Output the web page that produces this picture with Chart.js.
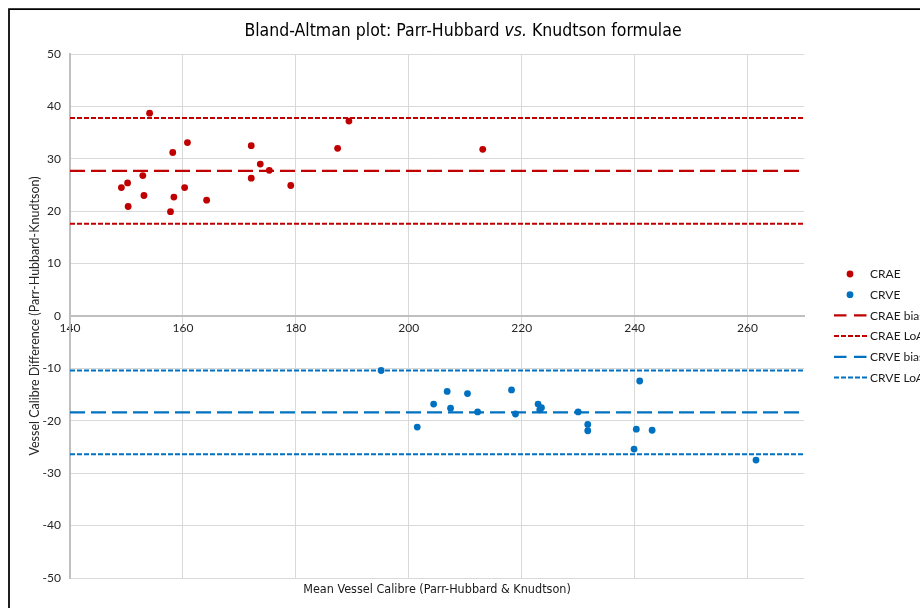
<!DOCTYPE html>
<html>
<head>
<meta charset="utf-8">
<script src="https://cdn.jsdelivr.net/npm/chart.js@4.4.1/dist/chart.umd.min.js"></script>
<style>
  html, body { margin: 0; padding: 0; background: #fff; }
</style>
</head>
<body>
<canvas id="ba-chart" width="920" height="608"></canvas>
<script>
// CRAE: mean of the two formulae vs. their difference
const craeMean = [149.1, 150.2, 150.3, 152.9, 153.1, 154.1, 157.8, 158.2, 158.4, 160.3,
                  160.8, 164.2, 172.1, 172.1, 173.7, 175.3, 179.1, 187.4, 189.4, 213.1];
const craeDiff = [24.5, 25.4, 20.9, 26.8, 23.0, 38.7, 19.9, 31.2, 22.7, 24.5,
                  33.1, 22.1, 32.5, 26.3, 29.0, 27.8, 24.9, 32.0, 37.2, 31.8];

// CRVE
const crveMean = [195.1, 201.5, 204.4, 206.8, 207.4, 210.4, 212.2, 218.2, 218.9, 222.9,
                  223.2, 223.5, 230.0, 231.7, 231.7, 240.9, 240.3, 243.1, 239.9, 261.5];
const crveDiff = [-10.4, -21.2, -16.8, -14.4, -17.6, -14.8, -18.3, -14.1, -18.7, -16.8,
                  -17.9, -17.5, -18.3, -20.7, -21.9, -12.4, -21.6, -21.8, -25.4, -27.5];

// bias and limits of agreement
const craeBias = 27.7;
const craeLoA = [17.6, 37.8];
const crveBias = -18.4;
const crveLoA = [-26.4, -10.4];

const xTickValues = [140, 160, 180, 200, 220, 240, 260];
const yTickValues = [-50, -40, -30, -20, -10, 0, 10, 20, 30, 40, 50];
const xRange = [140, 270];

const RED = '#C00000';
const BLUE = '#0070C0';
const SANS = 'Lato, "Noto Sans", sans-serif';
const TITLE_FONT = '"DejaVu Sans Condensed", "DejaVu Sans", sans-serif';

function toPoints(xs, ys) {
  return xs.map((x, i) => ({ x: x, y: ys[i] }));
}

function hLine(y) {
  return [{ x: xRange[0], y: y }, { x: xRange[1], y: y }];
}

function hLines(ys) {
  let pts = [];
  ys.forEach((y, i) => {
    if (i > 0) pts.push({ x: xRange[1], y: null });
    pts = pts.concat(hLine(y));
  });
  return pts;
}

function statLine(label, data, color, dash, width) {
  return {
    type: 'line',
    label: label,
    data: data,
    borderColor: color,
    backgroundColor: color,
    borderWidth: width,
    borderDash: dash,
    pointRadius: 0,
    spanGaps: false,
    fill: false,
    order: 2
  };
}

// frame, title, x axis title and legend drawn by hand
const decorations = {
  id: 'decorations',
  beforeDraw(chart) {
    const ctx = chart.ctx;
    ctx.save();
    ctx.fillStyle = '#ffffff';
    ctx.fillRect(0, 0, chart.width, chart.height);
    ctx.restore();
  },
  afterDraw(chart) {
    const ctx = chart.ctx;
    const area = chart.chartArea;
    ctx.save();

    // outer frame (only top and left edges are visible)
    ctx.strokeStyle = '#000';
    ctx.lineWidth = 1.75;
    ctx.beginPath();
    ctx.moveTo(9, chart.height + 5);
    ctx.lineTo(9, 9);
    ctx.lineTo(chart.width + 5, 9);
    ctx.stroke();

    // title, with "vs." in italics
    const parts = [
      { text: 'Bland-Altman plot: Parr-Hubbard ', italic: false },
      { text: 'vs.', italic: true },
      { text: ' Knudtson formulae', italic: false }
    ];
    const size = 17.5;
    let total = 0;
    parts.forEach(p => {
      ctx.font = (p.italic ? 'italic ' : '') + size + 'px ' + TITLE_FONT;
      p.w = ctx.measureText(p.text).width;
      total += p.w;
    });
    let tx = 463 - total / 2;
    ctx.fillStyle = '#000';
    ctx.textBaseline = 'middle';
    ctx.textAlign = 'left';
    parts.forEach(p => {
      ctx.font = (p.italic ? 'italic ' : '') + size + 'px ' + TITLE_FONT;
      ctx.fillText(p.text, tx, 31);
      tx += p.w;
    });

    // x axis title
    ctx.font = '12.5px ' + TITLE_FONT;
    ctx.fillStyle = '#1a1a1a';
    ctx.textAlign = 'center';
    ctx.fillText('Mean Vessel Calibre (Parr-Hubbard & Knudtson)', (area.left + area.right) / 2, 590);

    // legend
    const lx = 850;
    let ly = 274;
    ctx.font = '12px ' + SANS;
    ctx.textAlign = 'left';
    chart.data.datasets.forEach(ds => {
      ctx.strokeStyle = ds.borderColor;
      ctx.fillStyle = ds.backgroundColor;
      if (ds.type === 'line') {
        ctx.lineWidth = ds.borderWidth;
        ctx.setLineDash(ds.legendDash || ds.borderDash);
        ctx.beginPath();
        ctx.moveTo(lx - 16, ly);
        ctx.lineTo(lx + 17, ly);
        ctx.stroke();
        ctx.setLineDash([]);
      } else {
        ctx.beginPath();
        ctx.arc(lx, ly, 3.4, 0, Math.PI * 2);
        ctx.fill();
      }
      ctx.fillStyle = '#1a1a1a';
      ctx.fillText(ds.label, lx + 20, ly + 0.5);
      ly += 20.7;
    });

    ctx.restore();
  }
};

const ctx = document.getElementById('ba-chart').getContext('2d');

new Chart(ctx, {
  type: 'scatter',
  data: {
    datasets: [
      {
        label: 'CRAE',
        data: toPoints(craeMean, craeDiff),
        backgroundColor: RED,
        borderColor: RED,
        pointRadius: 3.4,
        borderWidth: 0,
        order: 1
      },
      {
        label: 'CRVE',
        data: toPoints(crveMean, crveDiff),
        backgroundColor: BLUE,
        borderColor: BLUE,
        pointRadius: 3.4,
        borderWidth: 0,
        order: 1
      },
      Object.assign(statLine('CRAE bias', hLine(craeBias), RED, [15, 6], 2.2), { legendDash: [12.5, 7.5] }),
      statLine('CRAE LoA', hLines(craeLoA), RED, [5, 2], 2),
      Object.assign(statLine('CRVE bias', hLine(crveBias), BLUE, [15, 6], 2.2), { legendDash: [12.5, 7.5] }),
      statLine('CRVE LoA', hLines(crveLoA), BLUE, [5, 2], 2)
    ]
  },
  options: {
    responsive: false,
    animation: false,
    layout: {
      padding: { top: 54, right: 116, bottom: 30, left: 0 }
    },
    plugins: {
      legend: { display: false },
      title: { display: false },
      tooltip: { enabled: false }
    },
    scales: {
      x: {
        type: 'linear',
        position: { y: 0 },
        min: xRange[0],
        max: xRange[1],
        afterBuildTicks: scale => {
          scale.ticks = xTickValues.map(v => ({ value: v }));
        },
        grid: {
          color: '#d9d9d9',
          lineWidth: 1,
          drawTicks: false
        },
        border: {
          color: '#bfbfbf',
          width: 2
        },
        ticks: {
          padding: 5,
          maxRotation: 0,
          color: '#262626',
          font: { family: SANS, size: 12 }
        }
      },
      y: {
        type: 'linear',
        min: -50,
        max: 50,
        afterBuildTicks: scale => {
          scale.ticks = yTickValues.map(v => ({ value: v }));
        },
        afterFit: scale => {
          scale.width = 70;
        },
        grid: {
          color: '#d9d9d9',
          lineWidth: 1,
          drawTicks: false
        },
        border: {
          color: '#bfbfbf',
          width: 2
        },
        ticks: {
          padding: 9,
          color: '#262626',
          font: { family: SANS, size: 12 }
        },
        title: {
          display: true,
          text: 'Vessel Calibre Difference (Parr-Hubbard-Knudtson)',
          color: '#262626',
          font: { family: SANS, size: 12.5 },
          padding: { top: 27, bottom: 0 }
        }
      }
    }
  },
  plugins: [decorations]
});
</script>
</body>
</html>
